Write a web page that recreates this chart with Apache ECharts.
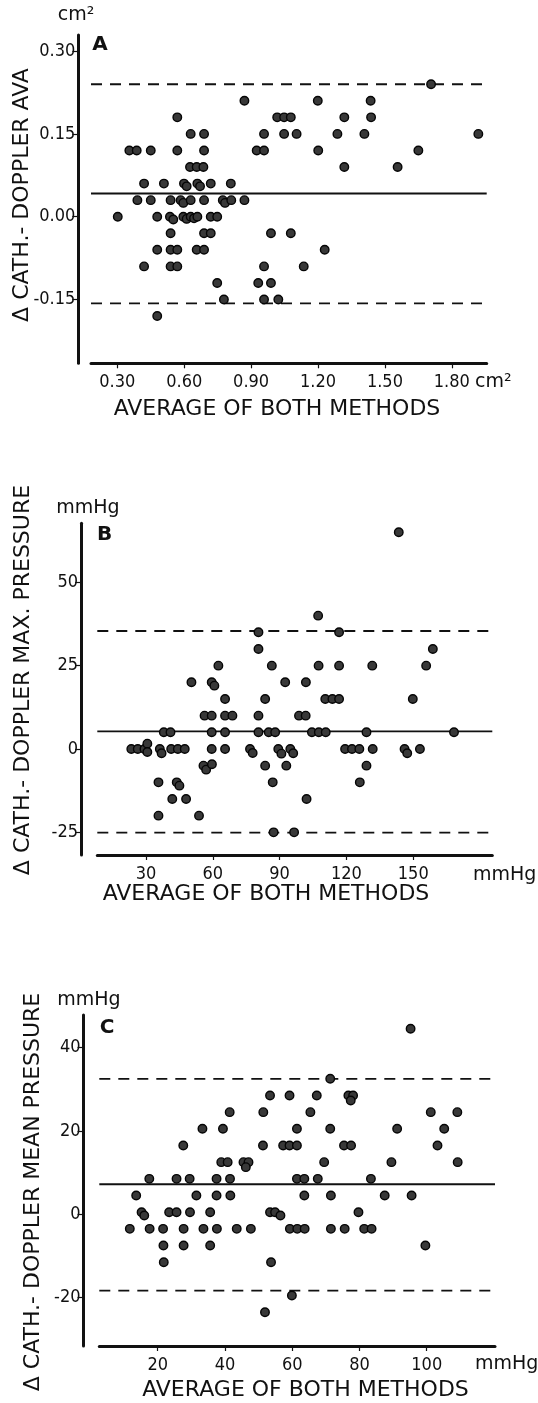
<!DOCTYPE html>
<html>
<head>
<meta charset="utf-8">
<script src="https://cdn.jsdelivr.net/npm/echarts@6/dist/echarts.min.js"></script>
<style>html,body{margin:0;padding:0;background:#fff}#c{width:538px;height:1403px}</style>
</head>
<body>
<div id="c"></div>
<script>
// ---------- DATA ----------
// Panel A: AVA (cm2) — [average, difference]
const pointsA = [
  [1.707,0.24],
  [0.870,0.21],[1.199,0.21],[1.436,0.21],
  [0.569,0.18],[1.017,0.18],[1.048,0.18],[1.078,0.18],[1.318,0.18],[1.438,0.18],
  [0.629,0.15],[0.689,0.15],[0.958,0.15],[1.048,0.15],[1.104,0.15],[1.287,0.15],[1.408,0.15],[1.919,0.15],
  [0.354,0.12],[0.387,0.12],[0.450,0.12],[0.569,0.12],[0.689,0.12],[0.925,0.12],[0.958,0.12],[1.201,0.12],[1.650,0.12],
  [0.626,0.09],[0.656,0.09],[0.686,0.09],[1.318,0.09],[1.557,0.09],
  [0.420,0.06],[0.509,0.06],[0.599,0.06],[0.611,0.055],[0.659,0.06],[0.671,0.055],[0.719,0.06],[0.809,0.06],
  [0.390,0.03],[0.450,0.03],[0.539,0.03],[0.584,0.03],[0.596,0.025],[0.629,0.03],[0.689,0.03],[0.773,0.03],[0.783,0.025],[0.811,0.03],[0.870,0.03],
  [0.302,0.00],[0.479,0.00],[0.536,0.00],[0.551,-0.005],[0.596,0.00],[0.611,-0.004],[0.629,0.00],[0.644,-0.003],[0.659,0.00],[0.719,0.00],[0.748,0.00],
  [0.539,-0.03],[0.689,-0.03],[0.719,-0.03],[0.989,-0.03],[1.078,-0.03],
  [0.479,-0.06],[0.539,-0.06],[0.569,-0.06],[0.656,-0.06],[0.689,-0.06],[1.230,-0.06],
  [0.420,-0.09],[0.539,-0.09],[0.569,-0.09],[0.958,-0.09],[1.136,-0.09],
  [0.748,-0.12],[0.932,-0.12],[0.989,-0.12],
  [0.778,-0.15],[0.958,-0.15],[1.022,-0.15],
  [0.479,-0.18]
];
const statsA = {mean:0.042, upper:0.240, lower:-0.157};
const xTicksA = [0.30,0.60,0.90,1.20,1.50,1.80];
const yTicksA = [-0.15,0.00,0.15,0.30];

// Panel B: max. pressure (mmHg)
const pointsB = [
  [143.5,65],
  [107.3,40],
  [80.5,35],[116.7,35],
  [80.5,30],[158.8,30],
  [62.5,25],[86.5,25],[107.5,25],[116.7,25],[131.6,25],[155.8,25],
  [50.4,20],[59.5,20],[60.7,19],[92.5,20],[101.8,20],
  [65.5,15],[83.5,15],[110.5,15],[113.7,15],[116.7,15],[149.8,15],
  [56.3,10],[59.5,10],[65.5,10],[68.8,10],[80.5,10],[98.7,10],[101.7,10],
  [38.0,5],[41.0,5],[59.5,5],[65.5,5],[80.5,5],[85.1,5],[88.0,5],[104.5,5],[107.6,5],[110.7,5],[129.0,5],[168.3,5],
  [23.4,0],[26.3,0],[29.3,0],[30.6,1.6],[30.6,-0.9],[36.2,0],[37.0,-1.3],[41.3,0],[44.3,0],[47.4,0],[59.5,0],[65.5,0],
  [76.7,0],[77.9,-1.2],[89.4,0],[90.8,-1.4],[94.8,0],[96.1,-1.3],[119.4,0],[122.5,0],[125.8,0],[131.8,0],[146.1,0],[147.3,-1.3],[153.0,0],
  [55.8,-5],[57.0,-6.2],[59.6,-4.6],[83.5,-5],[93.0,-5],[129.0,-5],
  [35.6,-10],[43.8,-10],[45.0,-11],[86.9,-10],[126.0,-10],
  [41.8,-15],[48.0,-15],[102.1,-15],
  [35.6,-20],[53.8,-20],
  [87.3,-25],[96.5,-25]
];
const statsB = {mean:5.3, upper:35.4, lower:-25.1};
const xTicksB = [30,60,90,120,150];
const yTicksB = [-25,0,25,50];

// Panel C: mean pressure (mmHg)
const pointsC = [
  [95.2,44.5],
  [71.3,32.5],
  [53.4,28.5],[59.2,28.5],[67.3,28.5],[76.7,28.5],[78.1,28.5],[77.4,27.3],
  [41.4,24.5],[51.4,24.5],[65.4,24.5],[101.2,24.5],[109.1,24.5],
  [33.3,20.5],[39.4,20.5],[61.4,20.5],[71.3,20.5],[91.2,20.5],[105.2,20.5],
  [27.6,16.5],[51.3,16.5],[57.3,16.5],[59.2,16.5],[61.4,16.5],[75.4,16.5],[77.5,16.5],[103.2,16.5],
  [38.9,12.5],[40.8,12.5],[45.5,12.5],[47.0,12.5],[46.2,11.3],[69.5,12.5],[89.5,12.5],[109.2,12.5],
  [17.5,8.5],[25.6,8.5],[29.5,8.5],[37.5,8.5],[41.5,8.5],[61.4,8.5],[63.6,8.5],[67.6,8.5],[83.4,8.5],
  [13.6,4.5],[31.5,4.5],[37.5,4.5],[41.6,4.5],[63.6,4.5],[71.5,4.5],[87.5,4.5],[95.5,4.5],
  [15.2,0.5],[16.0,-0.3],[23.4,0.5],[25.6,0.5],[29.6,0.5],[35.6,0.5],[53.4,0.5],[54.9,0.5],[56.5,-0.3],[79.7,0.5],
  [11.7,-3.5],[17.6,-3.5],[21.6,-3.5],[27.7,-3.5],[33.6,-3.5],[37.6,-3.5],[43.5,-3.5],[47.7,-3.5],[59.3,-3.5],[61.5,-3.5],[63.7,-3.5],[71.5,-3.5],[75.6,-3.5],[81.4,-3.5],[83.6,-3.5],
  [21.7,-7.5],[27.7,-7.5],[35.6,-7.5],[99.6,-7.5],
  [21.8,-11.5],[53.7,-11.5],
  [59.9,-19.5],
  [51.9,-23.5]
];
const statsC = {mean:7.2, upper:32.5, lower:-18.3};
const xTicksC = [20,40,60,80,100];
const yTicksC = [-20,0,20,40];

// ---------- CHART ----------
const INK = '#111';
const numFont = "'Liberation Sans Narrow','DejaVu Sans Condensed','Arial Narrow',sans-serif";
const txtFont = "'DejaVu Sans','Liberation Sans',sans-serif";

const panels = [
  {pts:pointsA, st:statsA, xt:xTicksA, yt:yTicksA, fmt:v=>v.toFixed(2),
   grid:{left:91, right:51.3, top:35, bottom:1403-363.3}, xr:[0.182,1.9565], yr:[-0.2656,0.3292], yoff:12.7},
  {pts:pointsB, st:statsB, xt:xTicksB, yt:yTicksB, fmt:v=>String(v),
   grid:{left:97.3, right:538-492.3, top:523.3, bottom:1403-855}, xr:[8.13,185.5], yr:[-31.8,67.7], yoff:16.3},
  {pts:pointsC, st:statsC, xt:xTicksC, yt:yTicksC, fmt:v=>String(v),
   grid:{left:99.3, right:538-495, top:1015, bottom:1403-1346}, xr:[2.63,120.3], yr:[-31.6,47.8], yoff:15.8}
];

const grids=[], xAxes=[], yAxes=[], series=[];
panels.forEach((p,i)=>{
  grids.push(Object.assign({containLabel:false, outerBoundsMode:'none'}, p.grid));
  xAxes.push({
    gridIndex:i, type:'value', min:p.xr[0], max:p.xr[1],
    axisLine:{show:true, onZero:false, lineStyle:{color:INK, width:3}},
    axisTick:{show:true, customValues:p.xt, length:5, lineStyle:{color:INK, width:1.2}},
    axisLabel:{show:true, customValues:p.xt, formatter:p.fmt, margin:10, fontSize:18, fontFamily:numFont, color:INK},
    splitLine:{show:false}
  });
  yAxes.push({
    gridIndex:i, type:'value', min:p.yr[0], max:p.yr[1], offset:p.yoff,
    axisLine:{show:true, onZero:false, lineStyle:{color:INK, width:3}},
    axisTick:{show:true, customValues:p.yt, length:6, lineStyle:{color:INK, width:1.2}},
    axisLabel:{show:true, customValues:p.yt, formatter:p.fmt, margin:3, fontSize:18, fontFamily:numFont, color:INK},
    splitLine:{show:false}
  });
  const mk = (val, dash) => ({
    type:'line', xAxisIndex:i, yAxisIndex:i, silent:true, symbol:'none', z:2,
    data:[[p.xr[0],val],[p.xr[1],val]],
    lineStyle:{color:INK, width:1.8, type:dash?[11,8]:'solid'}
  });
  series.push(mk(p.st.upper,true), mk(p.st.mean,false), mk(p.st.lower,true));
  series.push({
    type:'scatter', xAxisIndex:i, yAxisIndex:i, z:5, symbol:'circle', symbolSize:8.5,
    data:p.pts,
    itemStyle:{color:'#383838', borderColor:'#050505', borderWidth:1.4, opacity:1}
  });
});

const T = (text, x, y, opt={}) => ({
  type:'text', x, y, rotation:opt.rot||0,
  style:{text, fill:INK, font:(opt.bold?'bold ':'')+(opt.size||19)+'px '+(opt.font||txtFont),
         align:opt.align||'center', verticalAlign:'middle'}
});

const graphic = [
  // Panel A
  T('cm²', 76, 15, {size:19}),
  T('A', 100, 45, {size:20, bold:true}),
  T('Δ CATH.- DOPPLER AVA', 22.5, 195, {size:22, rot:Math.PI/2}),
  T('AVERAGE OF BOTH METHODS', 277, 409, {size:22}),
  T('cm²', 475, 382, {size:19, align:'left'}),
  // Panel B
  T('mmHg', 88, 508, {size:19}),
  T('B', 104.6, 535, {size:20, bold:true}),
  T('Δ CATH.- DOPPLER MAX. PRESSURE', 23, 680, {size:22, rot:Math.PI/2}),
  T('AVERAGE OF BOTH METHODS', 266, 894, {size:22}),
  T('mmHg', 473, 875, {size:19, align:'left'}),
  // Panel C
  T('mmHg', 89, 1000, {size:19}),
  T('C', 107, 1028, {size:20, bold:true}),
  T('Δ CATH.- DOPPLER MEAN PRESSURE', 33, 1192, {size:22, rot:Math.PI/2}),
  T('AVERAGE OF BOTH METHODS', 305.5, 1390, {size:22}),
  T('mmHg', 475, 1364, {size:19, align:'left'})
];

const chart = echarts.init(document.getElementById('c'), null, {renderer:'canvas'});
chart.setOption({
  animation:false,
  backgroundColor:'#fff',
  grid:grids, xAxis:xAxes, yAxis:yAxes, series, graphic
});
</script>
</body>
</html>
